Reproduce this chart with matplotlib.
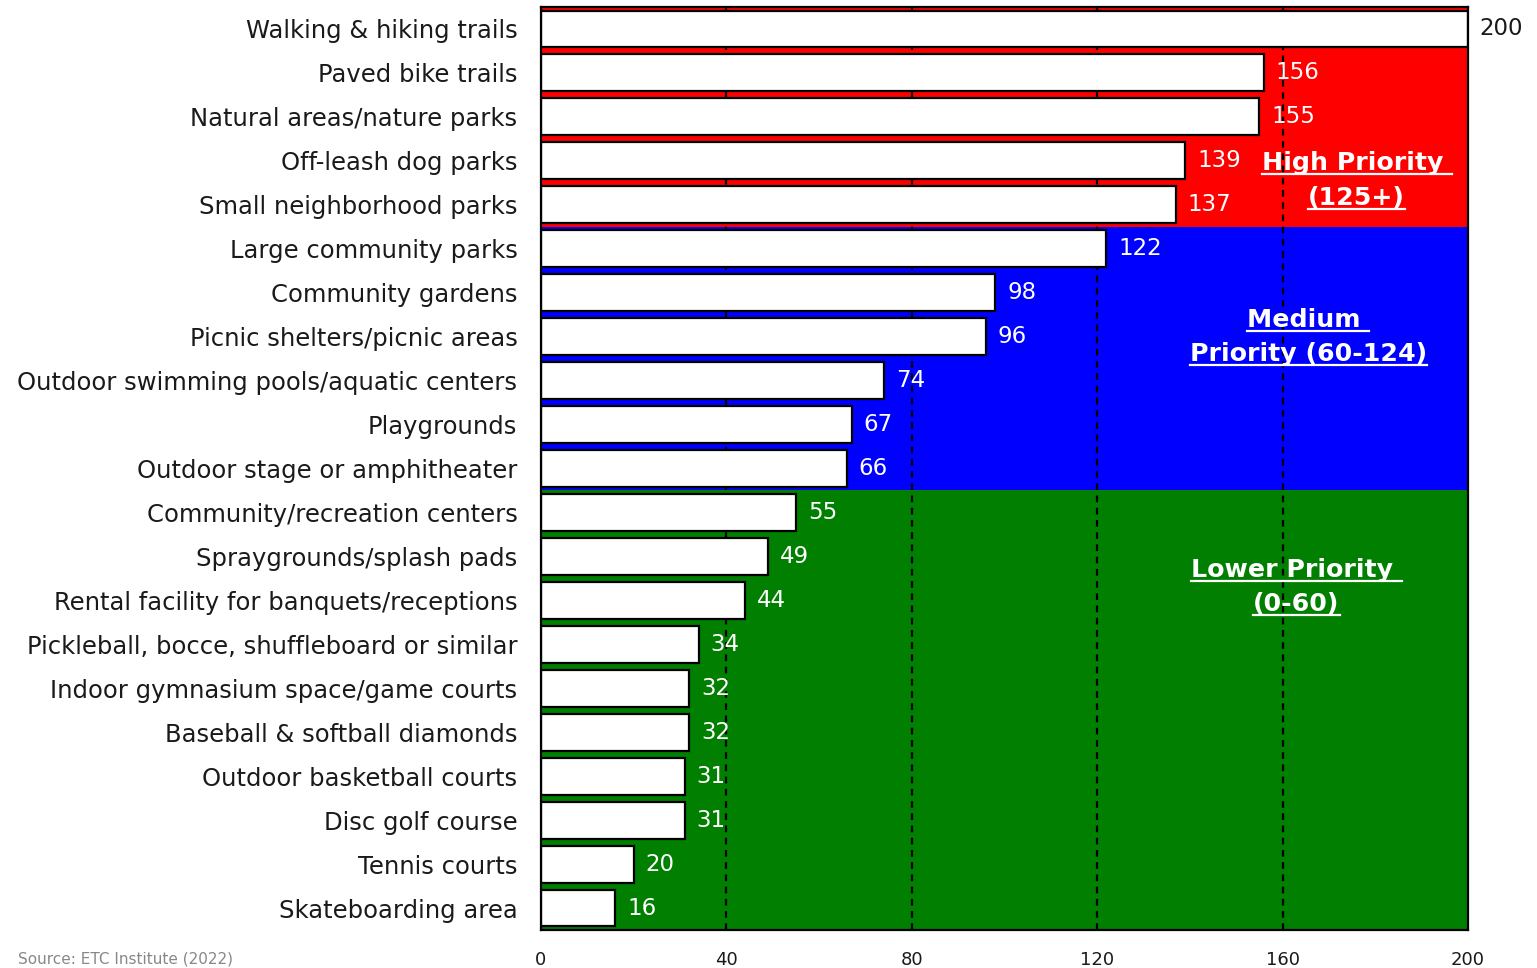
import matplotlib
matplotlib.use("Agg")
import matplotlib.pyplot as plt
from matplotlib.lines import Line2D

plt.rcParams['font.family'] = ['DejaVu Sans']

categories = ["Walking & hiking trails", "Paved bike trails", "Natural areas/nature parks",
              "Off-leash dog parks", "Small neighborhood parks", "Large community parks",
              "Community gardens", "Picnic shelters/picnic areas",
              "Outdoor swimming pools/aquatic centers", "Playgrounds",
              "Outdoor stage or amphitheater", "Community/recreation centers",
              "Spraygrounds/splash pads", "Rental facility for banquets/receptions",
              "Pickleball, bocce, shuffleboard or similar", "Indoor gymnasium space/game courts",
              "Baseball & softball diamonds", "Outdoor basketball courts", "Disc golf course",
              "Tennis courts", "Skateboarding area"]
values = [200, 156, 155, 139, 137, 122, 98, 96, 74, 67, 66, 55, 49, 44, 34, 32, 32, 31, 31, 20, 16]
x_ticks = [0, 40, 80, 120, 160, 200]
grid_x = [40, 80, 120, 160]

# priority bands: (first row, last row, colour, title lines, x centre, y centre)
bands = [
    (0, 4, '#ff0000', ["High Priority ", "(125+)"], 176, 3.45),
    (5, 10, '#0000ff', ["Medium ", "Priority (60-124)"], 165.5, 7.0),
    (11, 20, '#007f00', ["Lower Priority ", "(0-60)"], 163, 12.7),
]

fig = plt.figure(figsize=(15.37, 9.68), dpi=100)
ax = fig.add_axes([541/1537, 1-930/968, 927/1537, 923/968])

for first, last, col, _, _, _ in bands:
    ax.axhspan(first - 0.5, last + 0.5, color=col, zorder=1, lw=0)

for gx in grid_x:
    ax.axvline(gx, color='black', ls=(0, (3, 2.5)), lw=1.6, zorder=1.5)

pos = list(range(len(categories)))
ax.barh(pos, values, height=0.84, color='white', edgecolor='black', lw=1.6, zorder=2)

for i, v in enumerate(values):
    col = '#1a1a1a' if v >= 200 else 'white'
    ax.annotate(str(v), (v, i), xytext=(8.5, 0), textcoords='offset points',
                ha='left', va='center', fontsize=16.5, color=col, clip_on=False)

ax.set_xlim(0, 200)
ax.set_ylim(20.5, -0.5)
ax.set_xticks(x_ticks)
ax.set_yticks(pos)
ax.set_yticklabels(categories, fontsize=17.5, color='#1a1a1a')
ax.tick_params(axis='y', length=0, pad=17)
ax.tick_params(axis='x', length=0, pad=15, labelsize=13, labelcolor='#1a1a1a')
for s in ax.spines.values():
    s.set_linewidth(1.6)
    s.set_zorder(3)

# band titles, underlined
texts = []
for first, last, col, lines, cx, cy in bands:
    n = len(lines)
    for k, line in enumerate(lines):
        t = ax.text(cx, cy + (k - (n - 1) / 2) * 0.78, line, ha='center', va='center',
                    fontsize=18.2, fontweight='bold', color='white', zorder=4)
        texts.append(t)

fig.text(18/1537, 1/968, "Source: ETC Institute (2022)", fontsize=11, color='#888888',
         ha='left', va='bottom')

fig.canvas.draw()
r = fig.canvas.get_renderer()
inv = fig.transFigure.inverted()
for t in texts:
    bb = t.get_window_extent(r)
    y = bb.y0 + 1
    (x0, yy0), (x1, yy1) = inv.transform([(bb.x0, y), (bb.x1, y)])
    fig.add_artist(Line2D([x0, x1], [yy0, yy1], color='white', lw=1.6, zorder=5))

fig.savefig("out.png", dpi=100)
